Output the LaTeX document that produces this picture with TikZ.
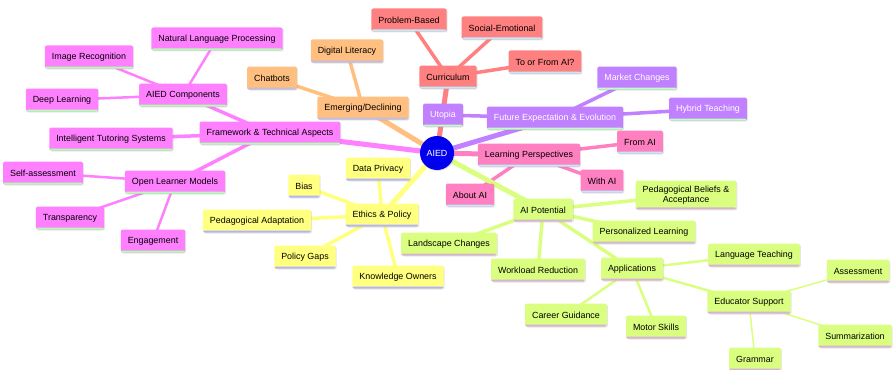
\documentclass[tikz,border=0pt]{standalone}
\usepackage{fontspec}
\setmainfont{Liberation Sans}
\usetikzlibrary{positioning,shadows,backgrounds}

\definecolor{aiedblue}{HTML}{0000EE}
\definecolor{fwpink}{HTML}{FF80FF}
\definecolor{curred}{HTML}{FF8080}
\definecolor{emorange}{HTML}{FFBF80}
\definecolor{futpurple}{HTML}{C080FF}
\definecolor{lppink}{HTML}{FF80C0}
\definecolor{ethyellow}{HTML}{FFFF80}
\definecolor{potgreen}{HTML}{DAFF80}

\tikzset{
  box/.style 2 args={rectangle,rounded corners=2pt,fill=#1,minimum height=23pt,inner xsep=7pt,
    drop shadow={opacity=0.2,shadow xshift=1pt,shadow yshift=-1pt},
    path picture={\fill[#2] (path picture bounding box.south west) rectangle ([yshift=2pt]path picture bounding box.south east);}},
  fw/.style={box={fwpink}{green!30}},
  em/.style={box={emorange}{cyan!20!blue!25}},
  cur/.style={box={curred}{cyan!25}},
  fut/.style={box={futpurple}{green!25},text=white},
  lp/.style={box={lppink}{cyan!25}},
  eth/.style={box={ethyellow}{blue!30}},
  pot/.style={box={potgreen}{violet!30}},
  lvA/.style={line width=5pt},
  lvB/.style={line width=3.5pt},
  lvC/.style={line width=2.5pt},
  lvD/.style={line width=1.5pt}
}

\begin{document}
\begin{tikzpicture}[x=1pt,y=-1pt,font=\fontsize{8.9}{10.5}\selectfont]
	\useasboundingbox (0,0) rectangle (893,369);
	\node[circle,fill=aiedblue,text=white,minimum size=34pt,inner sep=0pt,
	  drop shadow={opacity=0.2,shadow xshift=1pt,shadow yshift=-1pt}] (aied) at (437,153) {AIED};
	% framework
	\node[fw] (fta) at (270,133) {Framework \& Technical Aspects};
	\node[fw] (comp) at (183,95) {AIED Components};
	\node[fw] (nlp) at (217,39) {Natural Language Processing};
	\node[fw] (imgr) at (89,57) {Image Recognition};
	\node[fw] (deepl) at (62,100) {Deep Learning};
	\node[fw] (its) at (111,139) {Intelligent Tutoring Systems};
	\node[fw] (olm) at (175,182) {Open Learner Models};
	\node[fw] (selfa) at (43,173) {Self-assessment};
	\node[fw] (transp) at (70,218) {Transparency};
	\node[fw] (engage) at (153,241) {Engagement};
	% emerging
	\node[em] (emdec) at (363,108) {Emerging/Declining};
	\node[em] (diglit) at (347,51) {Digital Literacy};
	\node[em] (chatb) at (272,78) {Chatbots};
	% curriculum
	\node[cur] (curr) at (448,77) {Curriculum};
	\node[cur] (probb) at (409,20) {Problem-Based};
	\node[cur] (socem) at (502,28) {Social-Emotional};
	\node[cur] (tofrom) at (545,62) {To or From AI?};
	% future
	\node[fut] (future) at (555,118) {Future Expectation \& Evolution};
	\node[fut] (utopia) at (443,115) {Utopia};
	\node[fut] (market) at (637,78) {Market Changes};
	\node[fut] (hybrid) at (708,109) {Hybrid Teaching};
	% learning
	\node[lp] (learnp) at (529,155) {Learning Perspectives};
	\node[lp] (fromai) at (640,142) {From AI};
	\node[lp] (withai) at (602,181) {With AI};
	\node[lp] (aboutai) at (470,195) {About AI};
	% ethics
	\node[eth] (ethics) at (382,215) {Ethics \& Policy};
	\node[eth] (privacy) at (378,169) {Data Privacy};
	\node[eth] (bias) at (304,186) {Bias};
	\node[eth] (pedad) at (257,221) {Pedagogical Adaptation};
	\node[eth] (gaps) at (305,257) {Policy Gaps};
	\node[eth] (owners) at (398,277) {Knowledge Owners};
	% potential
	\node[pot] (aipot) at (543,210) {AI Potential};
	\node[pot,align=center,inner ysep=5pt] (beliefs) at (686,195) {Pedagogical Beliefs \&\\Acceptance};
	\node[pot] (perslearn) at (644,232) {Personalized Learning};
	\node[pot] (landsc) at (449,244) {Landscape Changes};
	\node[pot] (workl) at (538,270) {Workload Reduction};
	\node[pot] (apps) at (632,269) {Applications};
	\node[pot] (langt) at (754,255) {Language Teaching};
	\node[pot] (edsup) at (749,302) {Educator Support};
	\node[pot] (career) at (566,315) {Career Guidance};
	\node[pot] (motor) at (656,327) {Motor Skills};
	\node[pot] (assess) at (858,271) {Assessment};
	\node[pot] (summ) at (855,336) {Summarization};
	\node[pot] (grammar) at (755,359) {Grammar};

	\begin{scope}[on background layer]
	\path[fwpink]
	(aied.center) edge[lvA] (fta.center)
	(fta.center) edge[lvB] (comp.center)
	(fta.center) edge[lvB] (its.center)
	(fta.center) edge[lvB] (olm.center)
	(comp.center) edge[lvC] (nlp.center)
	(comp.center) edge[lvC] (imgr.center)
	(comp.center) edge[lvC] (deepl.center)
	(olm.center) edge[lvC] (selfa.center)
	(olm.center) edge[lvC] (transp.center)
	(olm.center) edge[lvC] (engage.center);
	\path[emorange]
	(aied.center) edge[lvA] (emdec.center)
	(emdec.center) edge[lvB] (diglit.center)
	(emdec.center) edge[lvB] (chatb.center);
	\path[curred]
	(aied.center) edge[lvA] (curr.center)
	(curr.center) edge[lvB] (probb.center)
	(curr.center) edge[lvB] (socem.center)
	(curr.center) edge[lvB] (tofrom.center);
	\path[futpurple]
	(aied.center) edge[lvA] (future.center)
	(future.center) edge[lvB] (utopia.center)
	(future.center) edge[lvB] (market.center)
	(future.center) edge[lvB] (hybrid.center);
	\path[lppink]
	(aied.center) edge[lvA] (learnp.center)
	(learnp.center) edge[lvB] (fromai.center)
	(learnp.center) edge[lvB] (withai.center)
	(learnp.center) edge[lvB] (aboutai.center);
	\path[ethyellow]
	(aied.center) edge[lvA] (ethics.center)
	(ethics.center) edge[lvB] (privacy.center)
	(ethics.center) edge[lvB] (bias.center)
	(ethics.center) edge[lvB] (pedad.center)
	(ethics.center) edge[lvB] (gaps.center)
	(ethics.center) edge[lvB] (owners.center);
	\path[potgreen]
	(aied.center) edge[lvA] (aipot.center)
	(aipot.center) edge[lvB] (beliefs.center)
	(aipot.center) edge[lvB] (perslearn.center)
	(aipot.center) edge[lvB] (landsc.center)
	(aipot.center) edge[lvB] (workl.center)
	(aipot.center) edge[lvB] (apps.center)
	(apps.center) edge[lvC] (langt.center)
	(apps.center) edge[lvC] (edsup.center)
	(apps.center) edge[lvC] (career.center)
	(apps.center) edge[lvC] (motor.center)
	(edsup.center) edge[lvD] (assess.center)
	(edsup.center) edge[lvD] (summ.center)
	(edsup.center) edge[lvD] (grammar.center);
	\end{scope}
\end{tikzpicture}
\end{document}
